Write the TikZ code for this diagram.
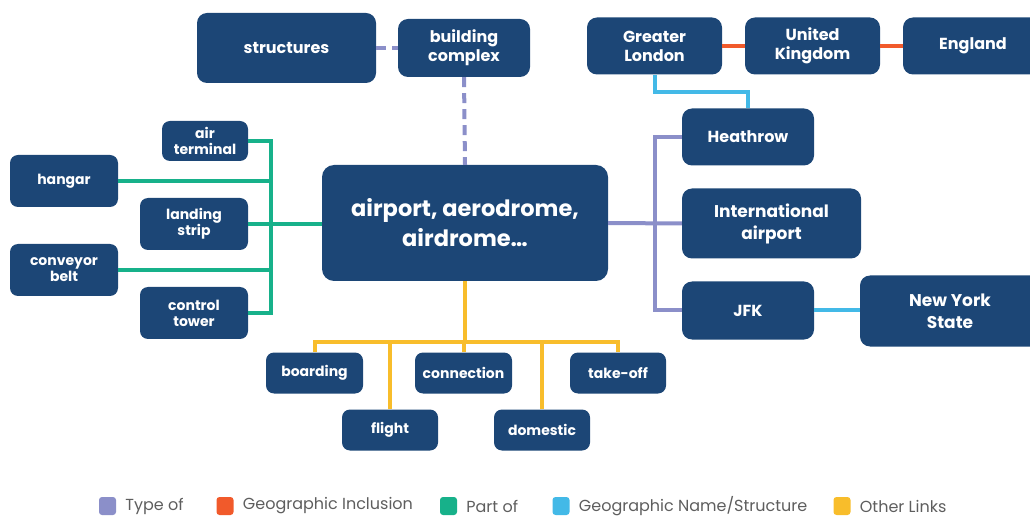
\documentclass[tikz,border=0pt]{standalone}
\usepackage{fontspec}
\setmainfont{Poppins}
\usetikzlibrary{positioning}
\definecolor{navy}{HTML}{1C4676}
\definecolor{typecol}{HTML}{8B8FC9}
\definecolor{inclcol}{HTML}{F15A2B}
\definecolor{partcol}{HTML}{17B18A}
\definecolor{namecol}{HTML}{43B9E7}
\definecolor{othercol}{HTML}{F8BD2B}
\definecolor{legtextcol}{HTML}{5E5E5E}
\tikzset{%
  concept/.style  = {shape=rectangle, rounded corners=10pt,%
                     fill=navy, text=white, align=center, inner sep=0pt,%
                     font=\bfseries\fontsize{16}{19}\selectfont},%
  small/.style    = {concept, rounded corners=8pt, font=\bfseries\fontsize{14}{16}\selectfont},%
  wide/.style     = {concept, font=\bfseries\fontsize{17}{22}\selectfont},%
  hub/.style      = {concept, rounded corners=12pt, font=\bfseries\fontsize{22.5}{30}\selectfont},%
  link/.style     = {line width=4pt},%
  typeof/.style   = {link, draw=typecol},%
  inclusion/.style= {link, draw=inclcol},%
  partof/.style   = {link, draw=partcol},%
  geoname/.style  = {link, draw=namecol},%
  otherlink/.style= {link, draw=othercol},%
  legmark/.style  = {shape=rectangle, rounded corners=3pt, minimum width=17pt, minimum height=18pt, inner sep=0pt},%
  legtext/.style  = {text=legtextcol, inner sep=0pt, font=\fontsize{16}{18}\selectfont}%
}
\begin{document}
\begin{tikzpicture}[x=1pt,y=-1pt]
		\clip (0,0) rectangle (1030,518);
		\node[hub, minimum width=286pt, minimum height=116pt] (airport) at (465,223) {airport, aerodrome,\\airdrome…};
		\node[concept, minimum width=179pt, minimum height=70pt] (structures) at (286.5,48) {structures};
		\node[concept, minimum width=132pt, minimum height=58pt] (building) at (464,48) {building\\complex};
		\node[small, minimum width=86pt, minimum height=40pt] (airterm) at (205,141) {air\\terminal};
		\node[small, minimum width=108pt, minimum height=52pt] (hangar) at (64,181) {hangar};
		\node[small, minimum width=108pt, minimum height=52pt] (landing) at (194,224) {landing\\strip};
		\node[small, minimum width=108pt, minimum height=52pt] (conveyor) at (64,270) {conveyor\\belt};
		\node[small, minimum width=108pt, minimum height=52pt] (ctrltower) at (194,313) {control\\tower};
		\node[concept, minimum width=135pt, minimum height=57pt] (london) at (654.5,46) {Greater\\London};
		\node[concept, minimum width=135pt, minimum height=57pt] (uk) at (812.5,46) {United\\Kingdom};
		\node[concept, minimum width=140pt, minimum height=57pt] (england) at (973,46) {England};
		\node[concept, minimum width=132pt, minimum height=57pt] (heathrow) at (748,137) {Heathrow};
		\node[wide, minimum width=179pt, minimum height=70pt] (intl) at (771.5,223.5) {International\\airport};
		\node[concept, minimum width=132pt, minimum height=58pt] (jfk) at (748,310.5) {JFK};
		\node[wide, minimum width=180pt, minimum height=71pt] (nystate) at (950,311) {New York\\State};
		\node[small, minimum width=97pt, minimum height=41pt] (boarding) at (314.5,373) {boarding};
		\node[small, minimum width=96pt, minimum height=41pt] (flight) at (390,430) {flight};
		\node[small, minimum width=97pt, minimum height=41pt] (connection) at (463.5,373) {connection};
		\node[small, minimum width=96pt, minimum height=41pt] (domestic) at (542,430) {domestic};
		\node[small, minimum width=96pt, minimum height=41pt] (takeoff) at (618,373) {take-off};
		\coordinate (greenbus) at (271,224);
		\coordinate (purplebus) at (655,223);
		\coordinate (yellowbus) at (465,342);
		\coordinate (bluebend) at (700,92);
		\draw[typeof, dash pattern=on 10pt off 6pt] (structures.east) -- (building.west);
		\draw[typeof, dash pattern=on 10pt off 6pt] (building.south) -- (airport.north);
		\draw[typeof] (heathrow.west) -| (purplebus) |- (jfk.west);
		\draw[typeof] (airport.east) -- (intl.west);
		\draw[inclusion] (london.east) -- (uk.west);
		\draw[inclusion] (uk.east) -- (england.west);
		\draw[geoname] (london.south) |- (bluebend) -| (heathrow.north);
		\draw[geoname] (jfk.east) -- (jfk.east -| nystate.west);
		\draw[partof] (airterm.east) -| (greenbus) |- (ctrltower.east);
		\draw[partof] (hangar.east) -- (hangar.east -| greenbus);
		\draw[partof] (conveyor.east) -- (conveyor.east -| greenbus);
		\draw[partof] (landing.east) -- (landing.east -| airport.west);
		\draw[otherlink] (airport.south) -- (yellowbus);
		\draw[otherlink] (boarding.north) |- (yellowbus) -| (takeoff.north);
		\draw[otherlink] (flight.north) -- (flight.north |- yellowbus);
		\draw[otherlink] (connection.north) -- (connection.north |- yellowbus);
		\draw[otherlink] (domestic.north) -- (domestic.north |- yellowbus);
		\node[legmark, fill=typecol] (mtype) at (107.5,506) {};
		\node[legtext, right=9pt of mtype] (ltype) {Type of};
		\node[legmark, fill=inclcol] (mincl) at (225,506) {};
		\node[legtext, right=9pt of mincl] (lincl) {Geographic Inclusion};
		\node[legmark, fill=partcol] (mpart) at (448.5,506) {};
		\node[legtext, right=9pt of mpart] (lpart) {Part of};
		\node[legmark, fill=namecol] (mname) at (561,506) {};
		\node[legtext, right=9pt of mname] (lname) {Geographic Name/Structure};
		\node[legmark, fill=othercol] (mother) at (842,506) {};
		\node[legtext, right=9pt of mother] (lother) {Other Links};
	\end{tikzpicture}
\end{document}
